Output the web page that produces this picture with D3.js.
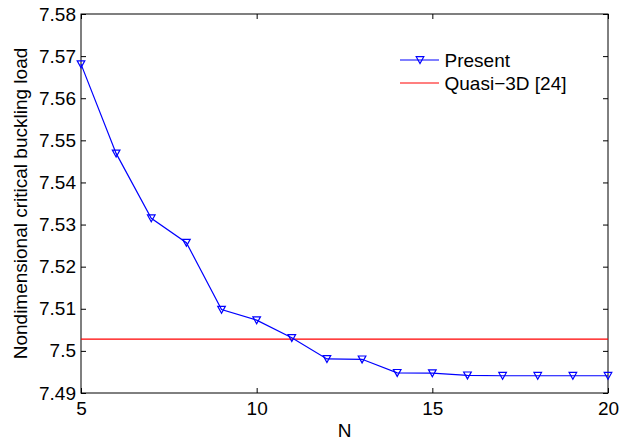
<!DOCTYPE html>
<html>
<head>
<meta charset="utf-8">
<script src="https://cdn.jsdelivr.net/npm/d3@7"></script>
<style>
	body { margin: 0; background: #fff; }
	svg text { font-family: "Liberation Sans", Arial, sans-serif; fill: #000; }
</style>
</head>
<body>
<svg width="635" height="443"></svg>
<script>
// number of terms N
var nValues = [5, 6, 7, 8, 9, 10, 11, 12, 13, 14, 15, 16, 17, 18, 19, 20];
// present solution
var presentLoad = [7.5681, 7.5469, 7.5315, 7.5257, 7.5098, 7.5073, 7.5031, 7.4981, 7.4980,
	7.4948, 7.4947, 7.4942, 7.4941, 7.4941, 7.4941, 7.4941];
// reference value, Quasi-3D [24]
var quasiLoad = 7.5028;

var xTicks = [5, 10, 15, 20];
var yTicks = [7.49, 7.5, 7.51, 7.52, 7.53, 7.54, 7.55, 7.56, 7.57, 7.58];
var seriesNames = ["Present", "Quasi\u22123D [24]"];
var seriesColors = ["#0000ff", "#ff0000"];

var svg = d3.select("svg"),
	margin = {
		top: 14,
		right: 27,
		bottom: 50,
		left: 81
	},
	width = +svg.attr("width") - margin.left - margin.right,
	height = +svg.attr("height") - margin.top - margin.bottom;

var x = d3.scaleLinear().domain([5, 20]).range([0, width]),
	y = d3.scaleLinear().domain([7.49, 7.58]).range([height, 0]);

var g = svg.append("g")
	.attr("transform", "translate(" + margin.left + "," + margin.top + ")");

var fmtY = function(d) { return d3.format("")(+d.toFixed(2)); };

// axes, ticks pointing inwards like matlab
var axB = g.append("g").attr("transform", "translate(0," + height + ")")
	.call(d3.axisBottom(x).tickValues(xTicks).tickSizeInner(-5).tickSizeOuter(0).tickPadding(9));
var axT = g.append("g")
	.call(d3.axisTop(x).tickValues(xTicks).tickSizeInner(-5).tickSizeOuter(0).tickFormat(""));
var axL = g.append("g")
	.call(d3.axisLeft(y).tickValues(yTicks).tickSizeInner(-5).tickSizeOuter(0).tickPadding(5).tickFormat(fmtY));
var axR = g.append("g").attr("transform", "translate(" + width + ",0)")
	.call(d3.axisRight(y).tickValues(yTicks).tickSizeInner(-5).tickSizeOuter(0).tickFormat(""));

[axB, axT, axL, axR].forEach(function(a) {
	a.select(".domain").remove();
	a.selectAll(".tick line").attr("stroke", "#000");
	a.selectAll("text").style("font-size", "19px").attr("fill", "#000");
});

// box
g.append("rect")
	.attr("width", width)
	.attr("height", height)
	.attr("fill", "none")
	.attr("stroke", "#000")
	.attr("stroke-width", 1);

// quasi-3D reference line
g.append("line")
	.attr("x1", 0)
	.attr("x2", width)
	.attr("y1", y(quasiLoad))
	.attr("y2", y(quasiLoad))
	.attr("stroke", seriesColors[1])
	.attr("stroke-width", 1.2);

var data = nValues.map(function(n, i) { return { n: n, v: presentLoad[i] }; });

var line = d3.line()
	.x(function(d) { return x(d.n); })
	.y(function(d) { return y(d.v); });

g.append("path")
	.datum(data)
	.attr("d", line)
	.attr("fill", "none")
	.attr("stroke", seriesColors[0])
	.attr("stroke-width", 1.2);

var tri = "M-3.8,-3.3L3.8,-3.3L0,3.6Z";

g.selectAll(".mark")
	.data(data)
	.enter().append("path")
	.attr("class", "mark")
	.attr("d", tri)
	.attr("transform", function(d) { return "translate(" + x(d.n) + "," + y(d.v) + ")"; })
	.attr("fill", "none")
	.attr("stroke", seriesColors[0])
	.attr("stroke-width", 1.2);

// axis labels
svg.append("text")
	.attr("x", margin.left + width / 2)
	.attr("y", 436.5)
	.attr("text-anchor", "middle")
	.style("font-size", "19px")
	.text("N");

svg.append("text")
	.attr("transform", "translate(27," + (margin.top + height / 2) + ") rotate(-90)")
	.attr("text-anchor", "middle")
	.style("font-size", "19px")
	.text("Nondimensional critical buckling load");

// legend (no box)
var leg = svg.append("g").attr("transform", "translate(400,60)");
var items = leg.selectAll(".li")
	.data(seriesNames)
	.enter().append("g")
	.attr("class", "li")
	.attr("transform", function(d, i) { return "translate(0," + (i * 23) + ")"; });
items.append("line")
	.attr("x1", 0).attr("x2", 39).attr("y1", 0).attr("y2", 0)
	.attr("stroke", function(d, i) { return seriesColors[i]; })
	.attr("stroke-width", 1.2);
items.filter(function(d, i) { return i === 0; })
	.append("path").attr("d", tri).attr("transform", "translate(20,0)")
	.attr("fill", "none").attr("stroke", seriesColors[0]).attr("stroke-width", 1.2);
items.append("text")
	.attr("x", 44.5)
	.attr("dy", "0.35em")
	.style("font-size", "19px")
	.text(function(d) { return d; });
</script>
</body>
</html>
